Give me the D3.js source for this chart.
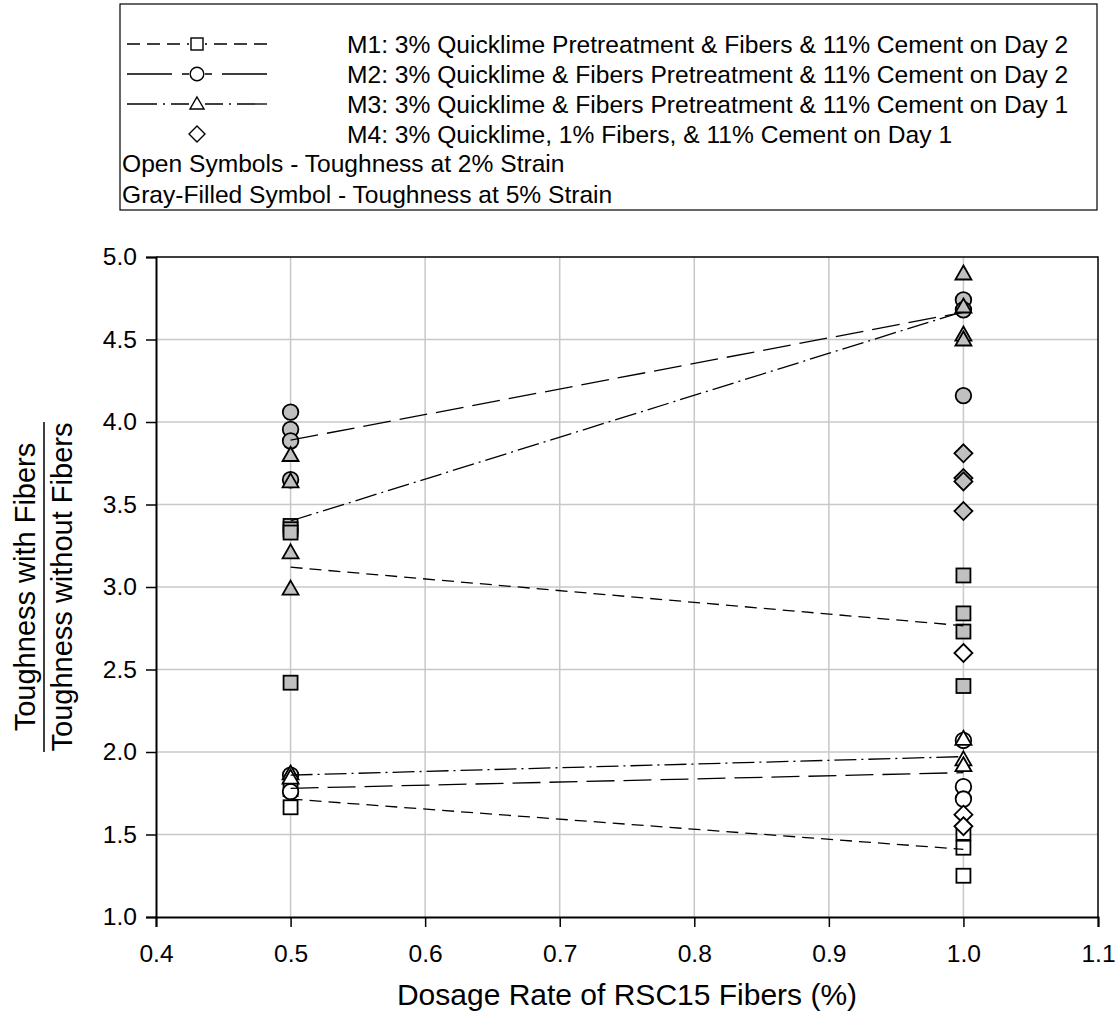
<!DOCTYPE html>
<html><head><meta charset="utf-8">
<script src="https://cdn.jsdelivr.net/npm/d3@7"></script>
<style>body{margin:0;background:#fff;} text{font-family:"Liberation Sans",Arial,sans-serif;fill:#000;}</style>
</head><body>
<svg id="c" width="1117" height="1024"></svg>
<script>
// ---- data ----
const xTicks = [0.4,0.5,0.6,0.7,0.8,0.9,1.0,1.1];
const yTicks = [1.0,1.5,2.0,2.5,3.0,3.5,4.0,4.5,5.0];
const dosages = [0.5, 1.0];

// individual points (open = 2% strain, gray = 5% strain)
const m1Open05 = [1.665, 1.775];
const m1Open10 = [1.51, 1.42, 1.25];
const m1Gray05 = [3.37, 3.35, 3.33, 2.42];
const m1Gray10 = [3.07, 2.84, 2.73, 2.40];
const m2Open05 = [1.86, 1.76];
const m2Open10 = [2.07, 1.79, 1.715];
const m2Gray05 = [4.06, 3.955, 3.885, 3.65];
const m2Gray10 = [4.74, 4.68, 4.16];
const m3Open05 = [1.87, 1.845];
const m3Open10 = [2.08, 1.955, 1.92];
const m3Gray05 = [3.80, 3.64, 3.21, 2.99];
const m3Gray10 = [4.90, 4.70, 4.53, 4.50];
const m4Open10 = [2.60, 1.62, 1.55];
const m4Gray10 = [3.81, 3.66, 3.64, 3.46];

// mean lines (value at 0.5 and 1.0)
const m1Line2 = [1.715, 1.41];
const m1Line5 = [3.12, 2.765];
const m2Line2 = [1.78, 1.875];
const m2Line5 = [3.89, 4.665];
const m3Line2 = [1.86, 1.972];
const m3Line5 = [3.40, 4.67];

const legendLabels = [
  "M1: 3% Quicklime Pretreatment & Fibers & 11% Cement on Day 2",
  "M2: 3% Quicklime & Fibers Pretreatment & 11% Cement on Day 2",
  "M3: 3% Quicklime & Fibers Pretreatment & 11% Cement on Day 1",
  "M4: 3% Quicklime, 1% Fibers, & 11% Cement on Day 1"
];
const legendNotes = ["Open Symbols - Toughness at 2% Strain", "Gray-Filled Symbol - Toughness at 5% Strain"];

// ---- layout ----
const svg = d3.select("#c");
const L = 156, R = 1098, T = 257, B = 917;
const x = d3.scaleLinear().domain([0.4,1.1]).range([L,R]);
const y = d3.scaleLinear().domain([1.0,5.0]).range([B,T]);
const GRAY = "#c0c0c0";
const FS = 24.6, FT = 30;

// grid
svg.append("g").selectAll("line").data(xTicks.slice(1,-1)).join("line")
  .attr("x1",d=>x(d)).attr("x2",d=>x(d)).attr("y1",T).attr("y2",B)
  .attr("stroke","#c8c8c8").attr("stroke-width",1.5);
svg.append("g").selectAll("line").data(yTicks.slice(1,-1)).join("line")
  .attr("x1",L).attr("x2",R).attr("y1",d=>y(d)).attr("y2",d=>y(d))
  .attr("stroke","#c8c8c8").attr("stroke-width",1.5);

// frame top/right
svg.append("path").attr("d",`M${L},${T}H${R}V${B}`).attr("fill","none").attr("stroke","#000").attr("stroke-width",1.5);

// axes
const xAxis = svg.append("g").attr("transform",`translate(0,${B})`)
  .call(d3.axisBottom(x).tickValues(xTicks).tickFormat(d3.format(".1f")).tickSize(10).tickPadding(18));
const yAxis = svg.append("g").attr("transform",`translate(${L},0)`)
  .call(d3.axisLeft(y).tickValues(yTicks).tickFormat(d3.format(".1f")).tickSize(10).tickPadding(9));
[xAxis,yAxis].forEach(g=>{
  g.select(".domain").attr("stroke","#000").attr("stroke-width",2);
  g.selectAll(".tick line").attr("stroke","#000").attr("stroke-width",1.5);
  g.selectAll(".tick text").style("font-size",FS+"px").style("font-family","'Liberation Sans',Arial,sans-serif");
});

// axis titles
svg.append("text").attr("x",(L+R)/2).attr("y",1005).attr("text-anchor","middle")
  .style("font-size",FT+"px").text("Dosage Rate of RSC15 Fibers (%)");
const yt = svg.append("g").attr("transform","translate(44,587) rotate(-90)");
yt.append("text").attr("x",0).attr("y",-9).attr("text-anchor","middle").style("font-size","29px").text("Toughness with Fibers");
yt.append("text").attr("x",0).attr("y",28).attr("text-anchor","middle").style("font-size","29px").text("Toughness without Fibers");
yt.append("line").attr("x1",-165).attr("x2",165).attr("y1",0).attr("y2",0).attr("stroke","#000").attr("stroke-width",1.5);

// marker shapes
function marker(g, shape, cx, cy, size, fill, sw){
  const s = size/2; sw = sw || 1.8;
  if(shape==="square") g.append("rect").attr("x",cx-s).attr("y",cy-s).attr("width",size).attr("height",size)
     .attr("fill",fill).attr("stroke","#000").attr("stroke-width",sw);
  else if(shape==="circle") g.append("circle").attr("cx",cx).attr("cy",cy).attr("r",s+0.8)
     .attr("fill",fill).attr("stroke","#000").attr("stroke-width",sw);
  else if(shape==="triangle") g.append("path")
     .attr("d",`M${cx},${cy-s-1}L${cx+s+1},${cy+s-1}L${cx-s-1},${cy+s-1}Z`)
     .attr("fill",fill).attr("stroke","#000").attr("stroke-width",sw);
  else if(shape==="diamond") g.append("path")
     .attr("d",`M${cx},${cy-s-2}L${cx+s+2},${cy}L${cx},${cy+s+2}L${cx-s-2},${cy}Z`)
     .attr("fill",fill).attr("stroke","#000").attr("stroke-width",sw);
}

const series = [
  {shape:"square", open:[m1Open05,m1Open10], gray:[m1Gray05,m1Gray10]},
  {shape:"circle", open:[m2Open05,m2Open10], gray:[m2Gray05,m2Gray10]},
  {shape:"triangle", open:[m3Open05,m3Open10], gray:[m3Gray05,m3Gray10]},
  {shape:"diamond", open:[[],m4Open10], gray:[[],m4Gray10]}
];
const mg = svg.append("g");
series.forEach(s=>{
  [["gray",GRAY],["open","#fff"]].forEach(([k,fill])=>{
    s[k].forEach((vals,i)=>{
      vals.forEach(v=>marker(mg, s.shape, x(dosages[i]), y(v), 14, fill));
    });
  });
});

// mean lines
const plotDash = ["12,7","28,9","22,5,2,5"];
const lines = [
  {vals:m1Line2, dash:plotDash[0]},{vals:m1Line5, dash:plotDash[0]},
  {vals:m2Line2, dash:plotDash[1]},{vals:m2Line5, dash:plotDash[1]},
  {vals:m3Line2, dash:plotDash[2]},{vals:m3Line5, dash:plotDash[2]}
];
const lineGen = d3.line().x((d,i)=>x(dosages[i])).y(d=>y(d));
svg.append("g").selectAll("path").data(lines).join("path")
  .attr("d",d=>lineGen(d.vals)).attr("fill","none").attr("stroke","#000").attr("stroke-width",1.3)
  .attr("stroke-dasharray",d=>d.dash);

// legend
const lg = svg.append("g");
lg.append("rect").attr("x",120).attr("y",4).attr("width",977).attr("height",206)
  .attr("fill","#fff").attr("stroke","#000").attr("stroke-width",1.2);
const legDash = ["13,7","45,10","30,6,2,6",null];
const legShapes = ["square","circle","triangle","diamond"];
legendLabels.forEach((t,i)=>{
  const ly = 44 + i*30;
  if(legDash[i]){
    lg.append("line").attr("x1",127).attr("x2",189).attr("y1",ly).attr("y2",ly).attr("stroke","#000").attr("stroke-width",1.3).attr("stroke-dasharray",legDash[i]);
    lg.append("line").attr("x1",267).attr("x2",205).attr("y1",ly).attr("y2",ly).attr("stroke","#000").attr("stroke-width",1.3).attr("stroke-dasharray",legDash[i]);
  }
  marker(lg, legShapes[i], 197, ly, 12, "#fff", 1.4);
  lg.append("text").attr("x",347).attr("y",ly+9).style("font-size",FS+"px").text(t);
});
legendNotes.forEach((t,i)=>{
  lg.append("text").attr("x",122).attr("y",172+i*31).style("font-size",FS+"px").text(t);
});
</script>
</body></html>
